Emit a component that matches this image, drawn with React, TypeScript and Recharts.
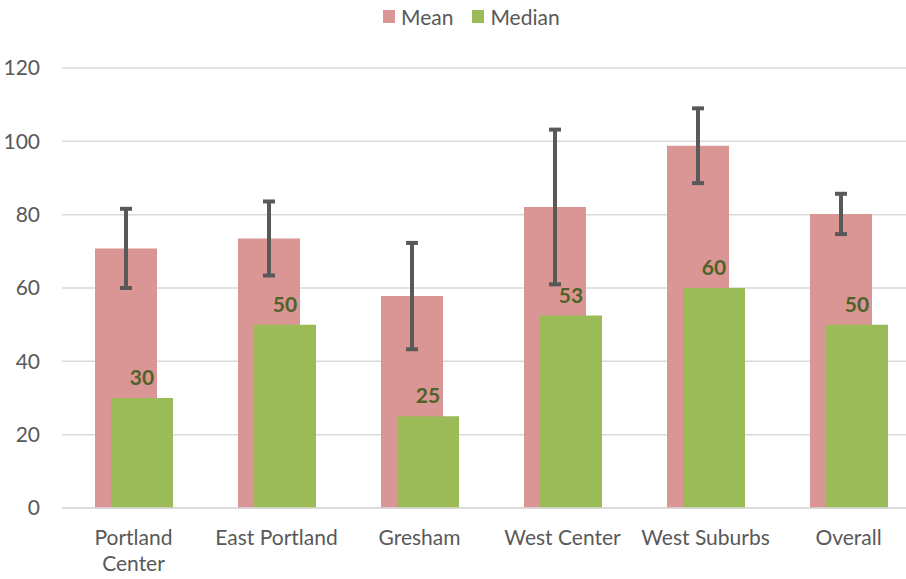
import React from 'react';
import { BarChart, Bar, XAxis, YAxis, CartesianGrid, ErrorBar, LabelList } from 'recharts';

const categories = ['Portland Center', 'East Portland', 'Gresham', 'West Center', 'West Suburbs', 'Overall'];
const meanValues = [70.8, 73.5, 57.8, 82.1, 98.8, 80.2];
const meanErrors = [10.8, 10.1, 14.5, 21.1, 10.2, 5.5];
const medianValues = [30, 50, 25, 52.5, 60, 50];
const yTicks = [0, 20, 40, 60, 80, 100, 120];

const data = categories.map((c, i) => ({
  name: c,
  mean: meanValues[i],
  err: meanErrors[i],
  median: medianValues[i],
}));

const FONT = 'Lato, "Open Sans", sans-serif';
const TEXT = '#595959';
const MEAN_COLOR = '#d99694';
const MEDIAN_COLOR = '#9bbb59';

const XTick = (props: any) => {
  const { x, y, payload } = props;
  const v: string = payload.value;
  const lines = v.length > 14 ? v.split(' ') : [v];
  return (
    <text x={x} y={y} textAnchor="middle" fill={TEXT} fontSize={21} fontFamily={FONT}>
      {lines.map((l, i) => (
        <tspan key={i} x={x} y={y + 37 + i * 26}>{l}</tspan>
      ))}
    </text>
  );
};

const LegendBox = () => (
  <div style={{ position: 'absolute', top: 4, left: 383, display: 'flex', alignItems: 'center', fontFamily: FONT, fontSize: 21, color: TEXT, lineHeight: '25px' }}>
    <span style={{ width: 12, height: 13, background: MEAN_COLOR, display: 'inline-block', marginRight: 6 }} />
    <span style={{ marginRight: 19 }}>Mean</span>
    <span style={{ width: 12, height: 13, background: MEDIAN_COLOR, display: 'inline-block', marginRight: 6 }} />
    <span>Median</span>
  </div>
);

export default function App() {
  return (
    <div style={{ position: 'absolute', left: 0, top: 0, width: 906, height: 579, overflow: 'hidden', background: '#fff' }}>
      <BarChart
        width={920}
        height={579}
        data={data}
        margin={{ top: 68, right: 0, bottom: 0, left: 0 }}
        barGap={-46}
      >
        <CartesianGrid vertical={false} stroke="#d9d9d9" strokeWidth={1.5} />
        <XAxis
          dataKey="name"
          axisLine={{ stroke: '#d9d9d9', strokeWidth: 1.5 }}
          tickLine={false}
          tickSize={0}
          tickMargin={0}
          tick={<XTick />}
          interval={0}
          height={71}
        />
        <YAxis
          domain={[0, 120]}
          ticks={yTicks}
          width={62}
          axisLine={false}
          tickLine={false}
          tickSize={0}
          tickMargin={22}
          tick={{ fill: TEXT, fontSize: 21, fontFamily: FONT }}
        />
        <Bar dataKey="mean" name="Mean" fill={MEAN_COLOR} barSize={62} isAnimationActive={false}>
          <ErrorBar dataKey="err" width={6} stroke="#595959" strokeWidth={4} direction="y" />
        </Bar>
        <Bar dataKey="median" name="Median" fill={MEDIAN_COLOR} barSize={62} isAnimationActive={false}>
          <LabelList
            dataKey="median"
            position="top"
            offset={13}
            formatter={(v: any) => Math.round(Number(v))}
            fill="#4f6228"
            fontSize={21}
            fontWeight="bold"
            fontFamily={FONT}
          />
        </Bar>
      </BarChart>
      <LegendBox />
    </div>
  );
}
